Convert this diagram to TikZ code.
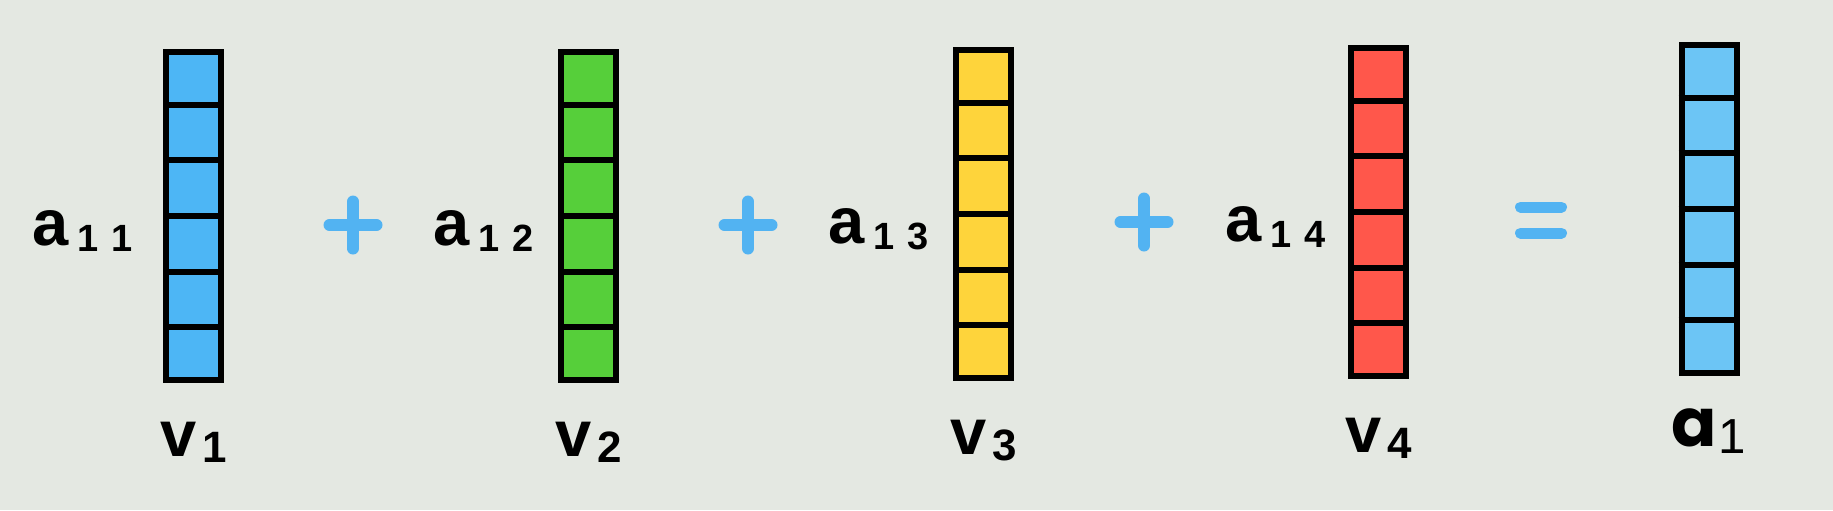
\documentclass[tikz,border=0pt]{standalone}
\usepackage{fontspec}
\setmainfont{Liberation Sans}
\newfontfamily\roundfont{Poppins}
\usetikzlibrary{positioning,calc}

\definecolor{bgcol}{HTML}{E4E8E2}
\definecolor{vblue}{HTML}{4DB6F5}
\definecolor{vgreen}{HTML}{56CF3A}
\definecolor{vyellow}{HTML}{FED43B}
\definecolor{vred}{HTML}{FF574B}
\definecolor{vlight}{HTML}{6CC5F5}
\definecolor{opblue}{HTML}{52B3F2}

% coefficient a_1j and column labels
\newcommand{\acoef}[2]{{\fontsize{18.5}{19}\selectfont\bfseries a}\kern2.5pt\raisebox{-1.7pt}{\fontsize{10.8}{11}\selectfont\bfseries #1\kern3.5pt #2}}
\newcommand{\vlab}[1]{{\fontsize{18.5}{19}\selectfont\bfseries v}\kern1.5pt\raisebox{-1.7pt}{\fontsize{12.5}{13}\selectfont\bfseries #1}}

\begin{document}
\begin{tikzpicture}[
        node distance=3.95cm,
        vecbox/.style={rectangle, draw, line width=0.06cm, minimum width=0.55cm, minimum height=3.28cm, inner sep=0pt},
        cellline/.style={draw, line width=0.06cm},
        coef/.style={inner sep=0pt, yshift=-0.15cm},
        vname/.style={inner sep=0pt},
        opsign/.style={draw=opblue, line width=0.12cm, line cap=round}
    ]
        \fill[bgcol] (0,0) rectangle (18.33,-5.10);
        \useasboundingbox (0,0) rectangle (18.33,-5.10);

        \node [vecbox, fill=vblue] (v1) at (1.935,-2.16) {};
        \node [vecbox, fill=vgreen, right of=v1] (v2) {};
        \node [vecbox, fill=vyellow, right of=v2, yshift=0.02cm] (v3) {};
        \node [vecbox, fill=vred, right of=v3, yshift=0.02cm] (v4) {};
        \node [vecbox, fill=vlight, right of=v4, node distance=3.305cm, yshift=0.03cm] (a1) {};

        % cell borders
        \foreach \v in {v1,v2,v3,v4,a1}
            \foreach \i in {1,...,5}
                \path [cellline] ($(\v.north west)!\i/6!(\v.south west)$) -- ($(\v.north east)!\i/6!(\v.south east)$);

        \node [coef, left=0.3cm of v1] (a11) {\acoef{1}{1}};
        \node [coef, left=0.24cm of v2] (a12) {\acoef{1}{2}};
        \node [coef, left=0.24cm of v3] (a13) {\acoef{1}{3}};
        \node [coef, left=0.22cm of v4] (a14) {\acoef{1}{4}};

        \node [vname, below=0.38cm of v1] (lv1) {\vlab{1}};
        \node [vname, below=0.38cm of v2] (lv2) {\vlab{2}};
        \node [vname, below=0.38cm of v3] (lv3) {\vlab{3}};
        \node [vname, below=0.38cm of v4] (lv4) {\vlab{4}};
        \node [vname, below=0.32cm of a1] (la1) {{\roundfont\fontsize{19}{20}\selectfont\bfseries a}\kern0.5pt\raisebox{-2pt}{\fontsize{14}{15}\selectfont 1}};

        % operators
        \coordinate (p1) at (3.53,-2.25);
        \coordinate (p2) at (7.48,-2.25);
        \coordinate (p3) at (11.44,-2.22);
        \coordinate (eq) at (15.41,-2.20);
        \foreach \p in {p1,p2,p3} {
            \draw [opsign] ($(\p)+(-0.235,0)$) -- ($(\p)+(0.235,0)$);
            \draw [opsign] ($(\p)+(0,-0.235)$) -- ($(\p)+(0,0.235)$);
        }
        \draw [opsign, line width=0.11cm] ($(eq)+(-0.205,0.13)$) -- ($(eq)+(0.205,0.13)$);
        \draw [opsign, line width=0.11cm] ($(eq)+(-0.205,-0.13)$) -- ($(eq)+(0.205,-0.13)$);
    \end{tikzpicture}
\end{document}
